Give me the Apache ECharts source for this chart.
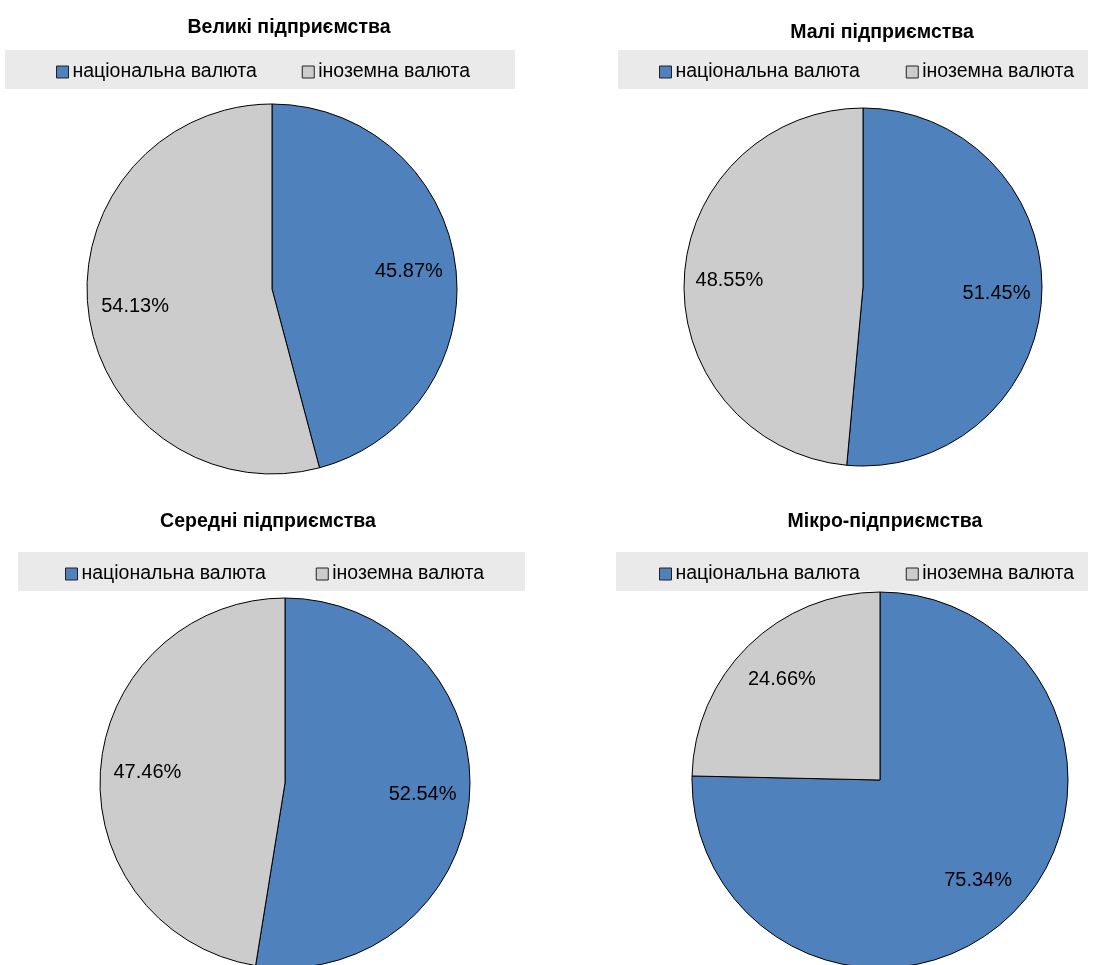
<!DOCTYPE html>
<html>
<head>
<meta charset="utf-8">
<script src="https://cdn.jsdelivr.net/npm/echarts@6/dist/echarts.min.js"></script>
<style>
  html, body { margin: 0; padding: 0; background: #fff; }
  #chart { width: 1099px; height: 965px; }
</style>
</head>
<body>
<div id="chart"></div>
<script>
// data
const titles = ['Великі підприємства', 'Малі підприємства', 'Середні підприємства', 'Мікро-підприємства']
const legendNames = ['національна валюта', 'іноземна валюта']
const nationalShare = [45.87, 51.45, 52.54, 75.34]
const foreignShare = [54.13, 48.55, 47.46, 24.66]

const colors = ['#4F81BD', '#CCCCCC']
const FONT = '"Liberation Sans", Arial, sans-serif'

// where each panel sits on the page
const panels = [
  { cx: 272, cy: 289, r: 185, tx: 289, ty: 28, bx: 5, by: 50, bw: 510, lx: 56, gap: 45 },
  { cx: 863, cy: 287, r: 179, tx: 882, ty: 33, bx: 618, by: 50, bw: 470, lx: 659, gap: 46 },
  { cx: 285, cy: 783, r: 185, tx: 268, ty: 522, bx: 18, by: 552, bw: 507, lx: 65, gap: 50 },
  { cx: 880, cy: 780, r: 188, tx: 885, ty: 522, bx: 616, by: 552, bw: 472, lx: 659, gap: 46 }
]

const myChart = echarts.init(document.getElementById('chart'))

const graphic = [], legend = [], pies = [], labelPies = []

panels.forEach((p, i) => {
  // legend background strip
  graphic.push({
    type: 'rect',
    shape: { x: p.bx, y: p.by, width: p.bw, height: 39 },
    style: { fill: '#EAEAEA' },
    z: -1
  })
  // panel title
  graphic.push({
    type: 'text',
    x: p.tx,
    y: p.ty,
    style: {
      text: titles[i],
      fontFamily: FONT,
      fontWeight: 'bold',
      fontSize: 19.5,
      fill: '#000',
      textAlign: 'center',
      textVerticalAlign: 'middle'
    }
  })

  legend.push({
    data: legendNames,
    left: p.lx,
    top: p.by + 12,
    width: 480,
    padding: 0,
    itemGap: p.gap,
    itemWidth: 12,
    itemHeight: 12,
    icon: 'rect',
    selectedMode: false,
    itemStyle: { borderColor: '#222', borderWidth: 1 },
    textStyle: { fontFamily: FONT, fontSize: 19.5, color: '#000', padding: [0, 0, 0, -1] }
  })

  const data = [
    { name: legendNames[0], value: nationalShare[i] },
    { name: legendNames[1], value: foreignShare[i] }
  ]

  pies.push({
    type: 'pie',
    center: [p.cx, p.cy],
    radius: p.r,
    startAngle: 90,
    clockwise: true,
    silent: true,
    label: { show: false },
    labelLine: { show: false },
    itemStyle: { borderColor: '#000', borderWidth: 1 },
    data: data
  })

  // transparent ring only used to place the percentage labels further out
  labelPies.push({
    type: 'pie',
    center: [p.cx, p.cy],
    radius: [p.r * 0.46, p.r],
    startAngle: 90,
    clockwise: true,
    silent: true,
    z: 3,
    itemStyle: { color: 'rgba(0,0,0,0)', borderWidth: 0 },
    label: {
      show: true,
      position: 'inside',
      formatter: params => params.value.toFixed(2) + '%',
      fontFamily: FONT,
      fontSize: 20,
      color: '#000'
    },
    labelLine: { show: false },
    data: data
  })
})

let option = {
  animation: false,
  color: colors,
  graphic: graphic,
  legend: legend,
  series: pies.concat(labelPies)
}

myChart.setOption(option)
</script>
</body>
</html>
